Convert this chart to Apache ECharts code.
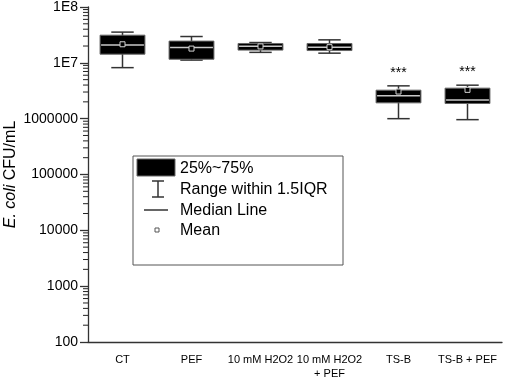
<!DOCTYPE html>
<html>
<head>
<meta charset="utf-8">
<script src="https://cdn.jsdelivr.net/npm/echarts@6/dist/echarts.min.js"></script>
<style>
html,body{margin:0;padding:0;background:#fff;}
#c{width:505px;height:377px;}
</style>
</head>
<body>
<div id="c"></div>
<script>
// ---- data ----
const categories = ['CT', 'PEF', '10 mM H2O2', '10 mM H2O2\n+ PEF', 'TS-B', 'TS-B + PEF'];
const whiskerLow  = [8.2e6, 1.12e7, 1.54e7, 1.49e7, 1.00e6, 9.6e5];
const q1          = [1.43e7, 1.16e7, 1.69e7, 1.66e7, 1.92e6, 1.87e6];
const medians     = [2.08e7, 1.88e7, 1.98e7, 1.91e7, 2.56e6, 2.17e6];
const q3          = [3.13e7, 2.45e7, 2.22e7, 2.22e7, 3.24e6, 3.52e6];
const whiskerHigh = [3.55e7, 2.96e7, 2.31e7, 2.58e7, 3.87e6, 3.98e6];
const means       = [2.15e7, 1.80e7, 1.97e7, 1.91e7, 3.06e6, 3.28e6];
const significance = ['', '', '', '', '***', '***'];
const yTickValues = [100, 1000, 10000, 100000, 1000000, 1e7, 1e8];
const yTickLabels = ['100', '1000', '10000', '100000', '1000000', '1E7', '1E8'];
const minorMultipliers = [2, 3, 4, 5, 6, 7, 8, 9];

const FONT = '"Liberation Sans", Arial, sans-serif';

const boxData = categories.map((c, i) => [i, whiskerLow[i], q1[i], medians[i], q3[i], whiskerHigh[i], means[i]]);
const minorData = [];
for (let d = 0; d < yTickValues.length - 1; d++) {
  minorMultipliers.forEach(m => minorData.push([0, yTickValues[d] * m]));
}

function renderBox(params, api) {
  const i = params.dataIndex;
  const cs = params.coordSys;
  const band = cs.width / categories.length;
  const bw = band * 0.65;
  const cw = bw * 0.5;
  const idx = api.value(0);
  const pMin = api.coord([idx, api.value(1)]);
  const pQ1 = api.coord([idx, api.value(2)]);
  const pMed = api.coord([idx, api.value(3)]);
  const pQ3 = api.coord([idx, api.value(4)]);
  const pMax = api.coord([idx, api.value(5)]);
  const pMean = api.coord([idx, api.value(6)]);
  const x = pMed[0];
  const wStyle = { stroke: '#333', lineWidth: 1.5, fill: null };
  const children = [
    { type: 'line', shape: { x1: x, y1: pMax[1], x2: x, y2: pMin[1] }, style: wStyle },
    { type: 'line', shape: { x1: x - cw / 2, y1: pMax[1], x2: x + cw / 2, y2: pMax[1] }, style: wStyle },
    { type: 'line', shape: { x1: x - cw / 2, y1: pMin[1], x2: x + cw / 2, y2: pMin[1] }, style: wStyle },
    { type: 'rect', shape: { x: x - bw / 2, y: pQ3[1], width: bw, height: pQ1[1] - pQ3[1] },
      style: { fill: '#000', stroke: '#666', lineWidth: 1 } },
    { type: 'line', shape: { x1: x - bw / 2 + 1, y1: pMed[1], x2: x + bw / 2 - 1, y2: pMed[1] },
      style: { stroke: '#c8c8c8', lineWidth: 1.5 } },
    { type: 'rect', shape: { x: x - 2.5, y: pMean[1] - 2.5, width: 5, height: 5 },
      style: { fill: '#000', stroke: '#d0d0d0', lineWidth: 1 } }
  ];
  if (significance[i]) {
    children.push({ type: 'text', x: x, y: pMax[1] - 13,
      style: { text: significance[i], fill: '#000', font: '14px ' + FONT, align: 'center', verticalAlign: 'middle' } });
  }
  return { type: 'group', children: children };
}

function renderMinor(params, api) {
  const cs = params.coordSys;
  const p = api.coord([0, api.value(1)]);
  const axisX = p[0] - cs.width / categories.length / 2;
  return { type: 'line', shape: { x1: axisX - 5, y1: p[1], x2: axisX, y2: p[1] },
    style: { stroke: '#222', lineWidth: 1 } };
}

const chart = echarts.init(document.getElementById('c'), null, { renderer: 'canvas' });

const lgX = 133, lgY = 156;
const legendTextStyle = { fill: '#000', font: '16px ' + FONT, verticalAlign: 'middle' };
chart.setOption({
  animation: false,
  backgroundColor: '#fff',
  grid: { left: 88, right: 3, top: 7, bottom: 35, containLabel: false, outerBoundsMode: 'none' },
  xAxis: {
    type: 'category',
    data: categories,
    axisLine: { lineStyle: { color: '#333', width: 1.3 } },
    axisTick: { alignWithLabel: true, length: 5, lineStyle: { color: '#333', width: 1.3 } },
    axisLabel: { interval: 0, margin: 11, color: '#000', fontSize: 11, fontFamily: FONT, lineHeight: 14 },
    splitLine: { show: false }
  },
  yAxis: {
    type: 'log',
    logBase: 10,
    min: 100,
    max: 1e8,
    splitNumber: 6,
    name: '{it|E. coli} CFU/mL',
    nameLocation: 'middle',
    nameGap: 69,
    nameMoveOverlap: false,
    nameTextStyle: { fontSize: 16, color: '#000', fontFamily: FONT,
      rich: { it: { fontStyle: 'italic', fontSize: 16, color: '#000', fontFamily: FONT } } },
    axisLine: { show: true, lineStyle: { color: '#333', width: 1.3 } },
    axisTick: { show: true, length: 8, lineStyle: { color: '#333', width: 1.3 } },
    axisLabel: { margin: 10, color: '#000', fontSize: 14, fontFamily: FONT,
      formatter: function (v) {
        const k = yTickValues.findIndex(t => Math.abs(Math.log10(t) - Math.log10(v)) < 1e-6);
        return k >= 0 ? '{t|' + yTickLabels[k] + '}' : '';
      },
      rich: { t: { fontSize: 14, fontFamily: FONT, color: '#000' } } },
    splitLine: { show: false }
  },
  series: [
    { type: 'custom', renderItem: renderMinor, data: minorData, clip: false, silent: true, z: 5,
      encode: { x: 0, y: 1 } },
    { type: 'custom', renderItem: renderBox, data: boxData, clip: false, z: 3,
      encode: { x: 0, y: [1, 2, 3, 4, 5, 6] } }
  ],
  graphic: [
    { type: 'rect', shape: { x: lgX, y: lgY, width: 210, height: 109 },
      style: { fill: '#fff', stroke: '#555', lineWidth: 1 }, z: 10 },
    { type: 'rect', shape: { x: lgX + 4, y: lgY + 3, width: 38, height: 17 },
      style: { fill: '#000', stroke: '#666', lineWidth: 1 }, z: 11 },
    { type: 'text', x: lgX + 47, y: lgY + 12.5, style: Object.assign({ text: '25%~75%' }, legendTextStyle), z: 11 },
    { type: 'line', shape: { x1: lgX + 25, y1: lgY + 25, x2: lgX + 25, y2: lgY + 41 }, style: { stroke: '#333', lineWidth: 1.5 }, z: 11 },
    { type: 'line', shape: { x1: lgX + 19, y1: lgY + 25, x2: lgX + 31, y2: lgY + 25 }, style: { stroke: '#333', lineWidth: 1.5 }, z: 11 },
    { type: 'line', shape: { x1: lgX + 19, y1: lgY + 41, x2: lgX + 31, y2: lgY + 41 }, style: { stroke: '#333', lineWidth: 1.5 }, z: 11 },
    { type: 'text', x: lgX + 47, y: lgY + 33.5, style: Object.assign({ text: 'Range within 1.5IQR' }, legendTextStyle), z: 11 },
    { type: 'line', shape: { x1: lgX + 11, y1: lgY + 54, x2: lgX + 35, y2: lgY + 54 }, style: { stroke: '#333', lineWidth: 1.5 }, z: 11 },
    { type: 'text', x: lgX + 47, y: lgY + 54.5, style: Object.assign({ text: 'Median Line' }, legendTextStyle), z: 11 },
    { type: 'rect', shape: { x: lgX + 22, y: lgY + 72, width: 4, height: 4 }, style: { fill: '#fff', stroke: '#555', lineWidth: 1 }, z: 11 },
    { type: 'text', x: lgX + 47, y: lgY + 74.5, style: Object.assign({ text: 'Mean' }, legendTextStyle), z: 11 }
  ]
});
</script>
</body>
</html>
